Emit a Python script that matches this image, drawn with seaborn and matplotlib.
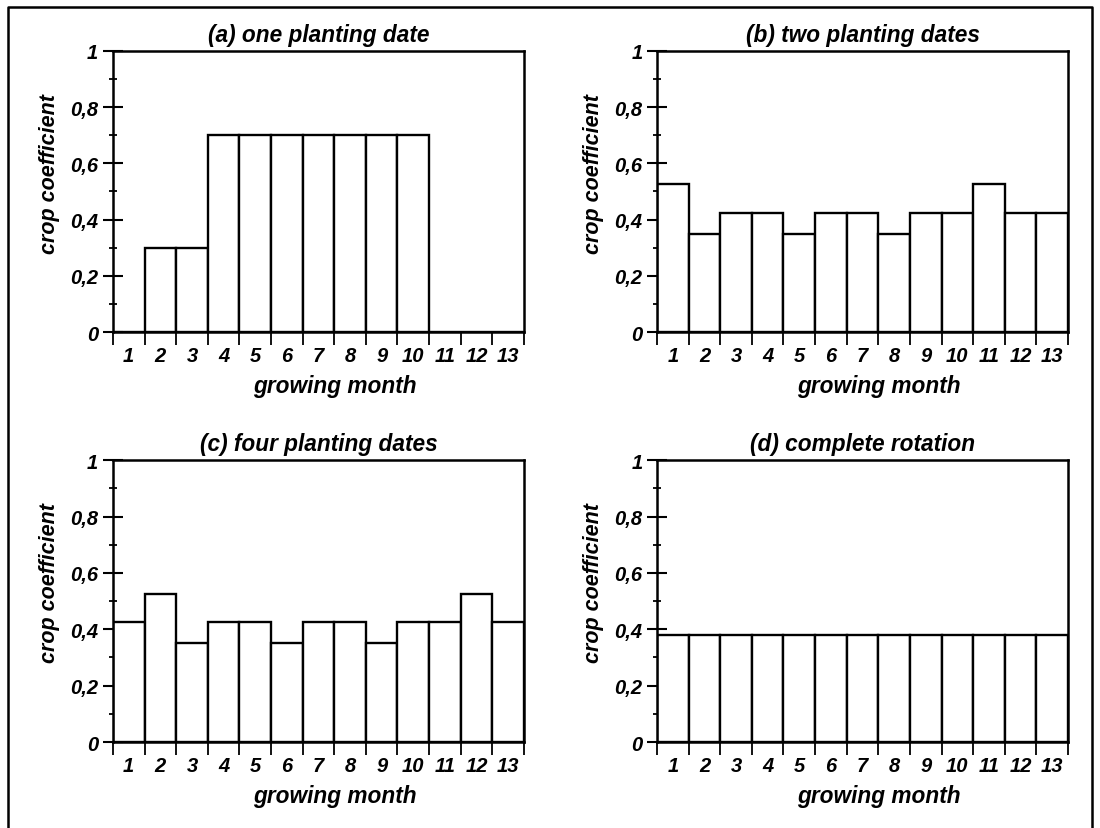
import numpy as np
import pandas as pd
import seaborn as sns
import matplotlib.pyplot as plt
from matplotlib.ticker import FixedLocator, MultipleLocator, FuncFormatter
from matplotlib.lines import Line2D

months = list(range(1, 14))
one_date = [0, 0.3, 0.3, 0.7, 0.7, 0.7, 0.7, 0.7, 0.7, 0.7, 0, 0, 0]
two_dates = [0.525, 0.35, 0.425, 0.425, 0.35, 0.425, 0.425, 0.35, 0.425, 0.425, 0.525, 0.425, 0.425]
four_dates = [0.425, 0.525, 0.35, 0.425, 0.425, 0.35, 0.425, 0.425, 0.35, 0.425, 0.425, 0.525, 0.425]
rotation = [0.38] * 13
titles = ['(a) one planting date', '(b) two planting dates',
          '(c) four planting dates', '(d) complete rotation']

sns.set_style('ticks')
plt.rcParams['font.family'] = ['Liberation Sans', 'DejaVu Sans']
plt.rcParams['font.weight'] = 'bold'
plt.rcParams['font.style'] = 'italic'
plt.rcParams['axes.labelweight'] = 'bold'
plt.rcParams['axes.titleweight'] = 'bold'
plt.rcParams['text.color'] = 'black'
plt.rcParams['axes.labelcolor'] = 'black'
plt.rcParams['xtick.color'] = 'black'
plt.rcParams['ytick.color'] = 'black'
plt.rcParams['axes.edgecolor'] = 'black'

fig = plt.figure(figsize=(11, 8.29), dpi=100)
positions = [[0.1027, 0.5983, 0.3736, 0.339],
             [0.5973, 0.5983, 0.3736, 0.339],
             [0.1027, 0.1037, 0.3736, 0.340],
             [0.5973, 0.1037, 0.3736, 0.340]]


def comma_fmt(v, pos):
    if abs(v) < 1e-9:
        return '0'
    if abs(v - 1) < 1e-9:
        return '1'
    return f'{v:.1f}'.replace('.', ',')


def plot_panel(ax, values, title):
    df = pd.DataFrame({'month': months, 'kc': values})
    sns.barplot(data=df, x='month', y='kc', color='white', saturation=1,
                edgecolor='black', linewidth=1.7, width=1, ax=ax)
    ax.set_xlim(-0.5, 12.5)
    ax.set_ylim(0, 1)
    ax.yaxis.set_major_locator(MultipleLocator(0.2))
    ax.yaxis.set_minor_locator(MultipleLocator(0.1))
    ax.yaxis.set_major_formatter(FuncFormatter(comma_fmt))
    ax.xaxis.set_minor_locator(FixedLocator(np.arange(-0.5, 13, 1)))
    ax.tick_params(axis='y', which='major', direction='inout', length=15, width=1.5,
                   labelsize=14.5, pad=3)
    ax.tick_params(axis='y', which='minor', direction='inout', length=6, width=1.3)
    ax.tick_params(axis='x', which='major', length=0, labelsize=14.5, pad=10)
    ax.tick_params(axis='x', which='minor', direction='out', length=9, width=1.3)
    for s in ax.spines.values():
        s.set_linewidth(1.8)
    ax.set_title(title, fontsize=16.3, fontweight='bold', style='italic', pad=7)
    ax.set_xlabel('growing month', fontsize=16.3, fontweight='bold')
    ax.set_ylabel('crop coefficient', fontsize=15.5, fontweight='bold')
    ax.xaxis.set_label_coords(0.54, -0.15)
    ax.yaxis.set_label_coords(-0.128, 0.566)


for pos, vals, title in zip(positions, [one_date, two_dates, four_dates, rotation], titles):
    ax = fig.add_axes(pos)
    plot_panel(ax, vals, title)

# outer frame of the figure
frame_x = [8 / 1100, 8 / 1100, 1092 / 1100, 1092 / 1100]
frame_y = [-0.05, 1 - 8 / 829, 1 - 8 / 829, -0.05]
fig.add_artist(Line2D(frame_x, frame_y, color='black', linewidth=1.8,
                      transform=fig.transFigure))

plt.savefig('out.png', dpi=100)
